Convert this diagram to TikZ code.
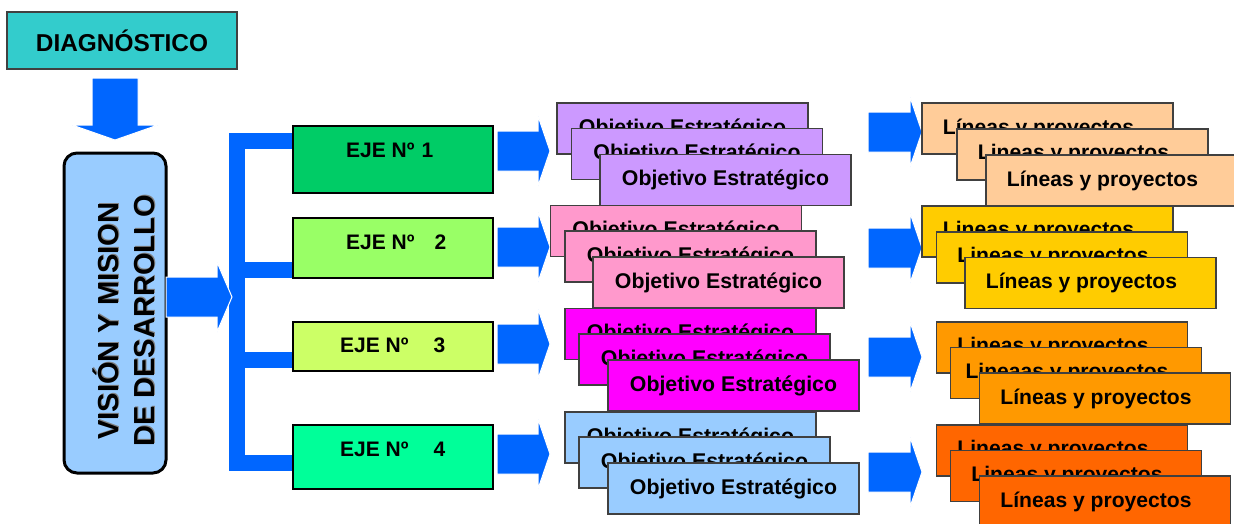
\documentclass[tikz,border=0pt]{standalone}
\usepackage{fontspec}
\setmainfont{Liberation Sans}
\usepackage{tikz}
\usetikzlibrary{backgrounds}

\definecolor{arrowblue}{HTML}{0066FF}
\definecolor{edgecol}{HTML}{404040}
\definecolor{diagcol}{HTML}{33CCCC}
\definecolor{viscol}{HTML}{99CCFF}
\definecolor{eje1col}{HTML}{00CC66}
\definecolor{eje2col}{HTML}{99FF66}
\definecolor{eje3col}{HTML}{CCFF66}
\definecolor{eje4col}{HTML}{00FF99}
\definecolor{obj1col}{HTML}{CC99FF}
\definecolor{obj2col}{HTML}{FF99CC}
\definecolor{obj3col}{HTML}{FF00FF}
\definecolor{obj4col}{HTML}{99CCFF}
\definecolor{lin1col}{HTML}{FFCC99}
\definecolor{lin2col}{HTML}{FFCC00}
\definecolor{lin3col}{HTML}{FF9900}
\definecolor{lin4col}{HTML}{FF6600}

% block arrow: x, y (middle), shaft length, head length
\newcommand{\blockarrow}[4]{%
  \filldraw[fill=arrowblue,draw=white,line width=1pt] (#1,#2-20) -- ++(#3,0) -- ++(0,-15)
    -- ++(#4,35) -- ++(-#4,35) -- ++(0,-15) -- ++(-#3,0) -- cycle;}

\begin{document}
\begin{tikzpicture}[
  x=1pt, y=-1pt,
  diagnode/.style={draw=edgecol,line width=2pt,fill=diagcol,minimum width=230pt,minimum height=57pt,
    font=\fontsize{24.4}{28}\selectfont\bfseries},
  visnode/.style={draw=black,line width=3pt,fill=viscol,rounded corners=13pt,minimum width=102pt,minimum height=320pt},
  vistext/.style={rotate=90,align=center,font=\fontsize{29}{36}\selectfont\bfseries},
  ejenode/.style={draw=black,line width=2pt,fill=#1,minimum width=200pt},
  ejetext/.style={anchor=west,inner sep=0pt,font=\fontsize{21}{25}\selectfont\bfseries},
  objnode/.style={draw=edgecol,line width=1.5pt,fill=#1,minimum width=251pt,minimum height=51pt,inner sep=0pt,
    font=\fontsize{21.3}{25}\selectfont\bfseries},
  linnode/.style={objnode=#1,font=\fontsize{21.1}{25}\selectfont\bfseries,execute at end node={\hspace{18pt}}},
  bracket/.style={arrowblue,line width=16pt,line join=miter}
]
  \useasboundingbox (0,0) rectangle (1234,523);

  % left column
  \node[diagnode] (diag) at (122,40.5) {DIAGNÓSTICO};
  \filldraw[fill=arrowblue,draw=white,line width=1pt] (92,78) -- (138,78) -- (138,125) -- (158,125)
    -- (115,140) -- (72,125) -- (92,125) -- cycle;
  \node[visnode] (vis) at (115,313) {};
  \node[vistext,text=gray] at (125,320) {VISIÓN Y MISION\\DE DESARROLLO};
  \node[vistext] (vistxt) at (123.5,321) {VISIÓN Y MISION\\DE DESARROLLO};

  % ejes
  \node[ejenode=eje1col,minimum height=67pt] (eje1) at (393,159.5) {};
  \node[ejenode=eje2col,minimum height=60pt] (eje2) at (393,248) {};
  \node[ejenode=eje3col,minimum height=49pt] (eje3) at (393,346.5) {};
  \node[ejenode=eje4col,minimum height=64pt] (eje4) at (393,457) {};
  \node[ejetext] (t1) at (346,150.5) {EJE Nº\hspace{7pt}1};
  \node[ejetext] (t2) at (346,242.5) {EJE Nº\hspace{20pt}2};
  \node[ejetext] (t3) at (340,345.5) {EJE Nº\hspace{25pt}3};
  \node[ejetext] (t4) at (340,449.5) {EJE Nº\hspace{25pt}4};

  % bracket
  \coordinate (b1) at (236.5,140.5);
  \coordinate (b2) at (236.5,269.5);
  \coordinate (b3) at (236.5,360);
  \coordinate (b4) at (236.5,463);
  \begin{scope}[on background layer]
    \draw[bracket] (eje1.west |- b1) -- (b1) -- (b4) -- (eje4.west |- b4);
    \draw[bracket] (b2) -- (eje2.west |- b2);
    \draw[bracket] (b3) -- (eje3.west |- b3);
  \end{scope}
  \blockarrow{166}{297}{51}{15}

  % arrows to objetivos
  \blockarrow{497}{151}{41}{12}
  \blockarrow{497}{247}{41}{12}
  \blockarrow{497}{344}{41}{12}
  \blockarrow{497}{454}{41}{12}

  % objetivos
  \node[objnode=obj1col] (o1a) at (682.5,128.5) {Objetivo Estratégico};
  \node[objnode=obj1col] (o1b) at (697,154) {Objetivo Estratégico};
  \node[objnode=obj1col] (o1c) at (725.5,180) {Objetivo Estratégico};
  \node[objnode=obj2col] (o2a) at (676,231) {Objetivo Estratégico};
  \node[objnode=obj2col] (o2b) at (690.5,256.5) {Objetivo Estratégico};
  \node[objnode=obj2col] (o2c) at (718.5,282.5) {Objetivo Estratégico};
  \node[objnode=obj3col] (o3a) at (690.5,334) {Objetivo Estratégico};
  \node[objnode=obj3col] (o3b) at (704.5,359.5) {Objetivo Estratégico};
  \node[objnode=obj3col] (o3c) at (733.5,385.5) {Objetivo Estratégico};
  \node[objnode=obj4col] (o4a) at (690.5,437.5) {Objetivo Estratégico};
  \node[objnode=obj4col] (o4b) at (704.5,462.5) {Objetivo Estratégico};
  \node[objnode=obj4col] (o4c) at (733.5,488.5) {Objetivo Estratégico};

  % arrows to lineas
  \blockarrow{868}{132}{42}{12}
  \blockarrow{868}{248}{42}{12}
  \blockarrow{868}{357}{42}{12}
  \blockarrow{868}{472}{42}{12}

  % lineas y proyectos
  \node[linnode=lin1col] (l1a) at (1047.5,128.5) {Líneas y proyectos};
  \node[linnode=lin1col] (l1b) at (1082.5,154.5) {Lineas y proyectos};
  \node[linnode=lin1col] (l1c) at (1111.5,180.5) {Líneas y proyectos};
  \node[linnode=lin2col] (l2a) at (1047.5,231.5) {Lineas y proyectos};
  \node[linnode=lin2col] (l2b) at (1062,257.5) {Lineas y proyectos};
  \node[linnode=lin2col] (l2c) at (1090.5,283) {Líneas y proyectos};
  \node[linnode=lin3col] (l3a) at (1062,347.5) {Lineas y proyectos};
  \node[linnode=lin3col] (l3b) at (1076,373) {Lineaas y proyectos};
  \node[linnode=lin3col] (l3c) at (1105,398.5) {Líneas y proyectos};
  \node[linnode=lin4col] (l4a) at (1062,450.5) {Lineas y proyectos};
  \node[linnode=lin4col] (l4b) at (1076,476) {Lineas y proyectos};
  \node[linnode=lin4col] (l4c) at (1105,501.5) {Líneas y proyectos};
\end{tikzpicture}
\end{document}
